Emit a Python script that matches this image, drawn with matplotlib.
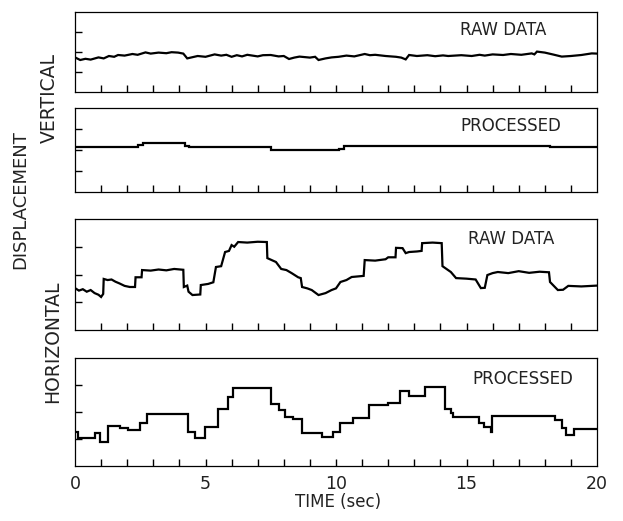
import matplotlib
matplotlib.use('Agg')
import matplotlib.pyplot as plt

# vertical displacement, raw trace
vert_raw_t = [0, 0.2, 0.4, 0.6, 0.9, 1.1, 1.3, 1.5, 1.65, 1.9, 2.2, 2.4, 2.7, 2.9, 3.2,
              3.5, 3.7, 3.95, 4.15, 4.3, 4.5, 4.7, 5.0, 5.35, 5.6, 5.8, 6.0, 6.2, 6.4, 6.6,
              6.8, 7.0, 7.2, 7.5, 7.8, 8.0, 8.2, 8.4, 8.6, 9.0, 9.2, 9.33, 9.6, 9.83,
              10.1, 10.4, 10.7, 11.1, 11.3, 11.5, 11.9, 12.3, 12.5, 12.67, 12.8, 13.1,
              13.5, 13.8, 14.1, 14.3, 14.8, 15.2, 15.5, 15.7, 16.0, 16.4, 16.7, 17.1,
              17.5, 17.6, 17.7, 18.0, 18.3, 18.65, 19.0, 19.4, 19.8, 20]
vert_raw_v = [1.73, 1.6, 1.66, 1.62, 1.73, 1.68, 1.8, 1.76, 1.85, 1.82, 1.9, 1.86, 1.98,
              1.92, 1.97, 1.94, 1.99, 1.97, 1.92, 1.68, 1.74, 1.8, 1.76, 1.88, 1.82, 1.86,
              1.76, 1.84, 1.78, 1.86, 1.82, 1.78, 1.84, 1.85, 1.78, 1.8, 1.65, 1.72, 1.77,
              1.72, 1.76, 1.6, 1.68, 1.73, 1.76, 1.82, 1.78, 1.9, 1.84, 1.86, 1.8, 1.76,
              1.72, 1.63, 1.85, 1.8, 1.84, 1.79, 1.83, 1.8, 1.84, 1.8, 1.86, 1.82, 1.88,
              1.85, 1.9, 1.86, 1.93, 1.88, 2.02, 1.97, 1.88, 1.77, 1.8, 1.85, 1.93, 1.92]

# vertical displacement, processed (steps)
vert_proc_t = [0, 2.4, 2.6, 4.2, 4.35, 7.5, 10.1, 10.3, 18.2, 20]
vert_proc_v = [2.14, 2.25, 2.33, 2.2, 2.14, 2.0, 2.05, 2.2, 2.16, 2.16]

# horizontal displacement, raw trace
hor_raw_t = [0, 0.15, 0.3, 0.45, 0.6, 0.75, 0.9, 1.0, 1.08, 1.1, 1.25, 1.4, 1.55, 1.7, 1.9,
             2.1, 2.3, 2.32, 2.55, 2.57, 2.9, 3.2, 3.5, 3.8, 4.15, 4.17, 4.3, 4.35, 4.5,
             4.8, 4.82, 5.1, 5.3, 5.4, 5.6, 5.75, 5.9, 6.0, 6.1, 6.25, 6.6, 7.0, 7.35,
             7.37, 7.7, 7.9, 8.1, 8.3, 8.55, 8.65, 8.7, 8.9, 9.07, 9.2, 9.33, 9.6, 9.83,
             10.0, 10.17, 10.4, 10.6, 11.06, 11.1, 11.5, 11.9, 12.0, 12.28, 12.3, 12.55,
             12.67, 12.8, 13.1, 13.28, 13.3, 13.7, 14.05, 14.08, 14.4, 14.6, 15.0, 15.35,
             15.55, 15.7, 15.8, 16.0, 16.2, 16.6, 17.0, 17.4, 17.8, 18.16, 18.2, 18.5,
             18.7, 18.9, 19.4, 20]
hor_raw_v = [1.51, 1.42, 1.47, 1.38, 1.44, 1.33, 1.27, 1.19, 1.3, 1.84, 1.8, 1.82, 1.74,
             1.68, 1.59, 1.55, 1.55, 1.9, 1.9, 2.16, 2.14, 2.18, 2.15, 2.2, 2.17, 1.55,
             1.6, 1.38, 1.26, 1.28, 1.62, 1.66, 1.72, 2.27, 2.3, 2.81, 2.85, 3.06, 3.0,
             3.17, 3.15, 3.18, 3.17, 2.59, 2.45, 2.2, 2.16, 2.05, 1.9, 1.87, 1.55, 1.5,
             1.44, 1.35, 1.26, 1.33, 1.44, 1.5, 1.73, 1.8, 1.91, 1.95, 2.52, 2.5, 2.55,
             2.62, 2.62, 2.96, 2.95, 2.77, 2.81, 2.83, 2.85, 3.13, 3.15, 3.13, 2.3, 2.09,
             1.87, 1.85, 1.82, 1.51, 1.52, 1.98, 2.05, 2.09, 2.05, 2.12, 2.06, 2.1, 2.08,
             1.73, 1.44, 1.45, 1.59, 1.57, 1.6]

# horizontal displacement, processed (steps)
hor_proc_t = [0, 0.1, 0.75, 0.96, 1.27, 1.72, 2.03, 2.48, 2.74, 4.34, 4.6, 4.99, 5.49,
              5.87, 6.07, 7.5, 7.8, 8.05, 8.37, 8.7, 9.45, 9.9, 10.17, 10.67, 11.25, 12.0,
              12.47, 12.78, 13.4, 14.17, 14.4, 14.5, 15.47, 15.66, 15.93, 15.97, 18.4,
              18.65, 18.8, 19.1, 20]
hor_proc_v = [1.26, 1.04, 1.22, 0.89, 1.48, 1.41, 1.33, 1.59, 1.93, 1.26, 1.04, 1.44,
              2.11, 2.56, 2.89, 2.3, 2.07, 1.81, 1.74, 1.22, 1.07, 1.26, 1.59, 1.78, 2.26,
              2.33, 2.78, 2.59, 2.93, 2.11, 1.96, 1.81, 1.59, 1.44, 1.26, 1.85, 1.7, 1.41,
              1.15, 1.37, 1.37]

x_ticks = [0, 5, 10, 15, 20]

W, H = 623, 521
fig = plt.figure(figsize=(W / 100, H / 100), dpi=100)

# panel boxes in pixels: (top, bottom)
boxes = [(12, 92), (108, 192), (219, 330), (358, 466)]
left, right = 75, 597
series = [
    (vert_raw_t, vert_raw_v, 'default', 'RAW DATA', (0.82, 0.78)),
    (vert_proc_t, vert_proc_v, 'steps-post', 'PROCESSED', (0.835, 0.79)),
    (hor_raw_t, hor_raw_v, 'default', 'RAW DATA', (0.835, 0.82)),
    (hor_proc_t, hor_proc_v, 'steps-post', 'PROCESSED', (0.858, 0.81)),
]
txt = '#222222'

axes = []
for (top, bot), (t, v, ds, lab, pos) in zip(boxes, series):
    ax = fig.add_axes([left / W, (H - bot) / H, (right - left) / W, (bot - top) / H])
    ax.plot(t, v, color='black', lw=1.6, drawstyle=ds, solid_joinstyle='miter')
    ax.set_xlim(0, 20)
    ax.set_ylim(0, 4)
    ax.set_xticks(range(1, 20))
    ax.set_yticks([1, 2, 3])
    ax.tick_params(direction='in', length=5, width=1, labelleft=False, labelbottom=False)
    for s in ax.spines.values():
        s.set_linewidth(0.9)
    ax.text(pos[0], pos[1], lab, transform=ax.transAxes, ha='center', va='center',
            fontsize=12, color=txt)
    axes.append(ax)

# numeric time labels under the bottom panel only
for xv in x_ticks:
    axes[-1].text(xv, -0.35, str(xv), ha='center', va='top', fontsize=12.5, color=txt)

fig.text(338 / W, 1 - 502 / H, 'TIME (sec)', ha='center', va='center', fontsize=12,
         color=txt)
fig.text(20 / W, 1 - 200 / H, 'DISPLACEMENT', rotation=90, ha='center', va='center',
         fontsize=13, color=txt)
fig.text(49 / W, 1 - 98 / H, 'VERTICAL', rotation=90, ha='center', va='center',
         fontsize=13.5, color=txt)
fig.text(53 / W, 1 - 342 / H, 'HORIZONTAL', rotation=90, ha='center', va='center',
         fontsize=13.5, color=txt)

fig.savefig('out.png', dpi=100)
